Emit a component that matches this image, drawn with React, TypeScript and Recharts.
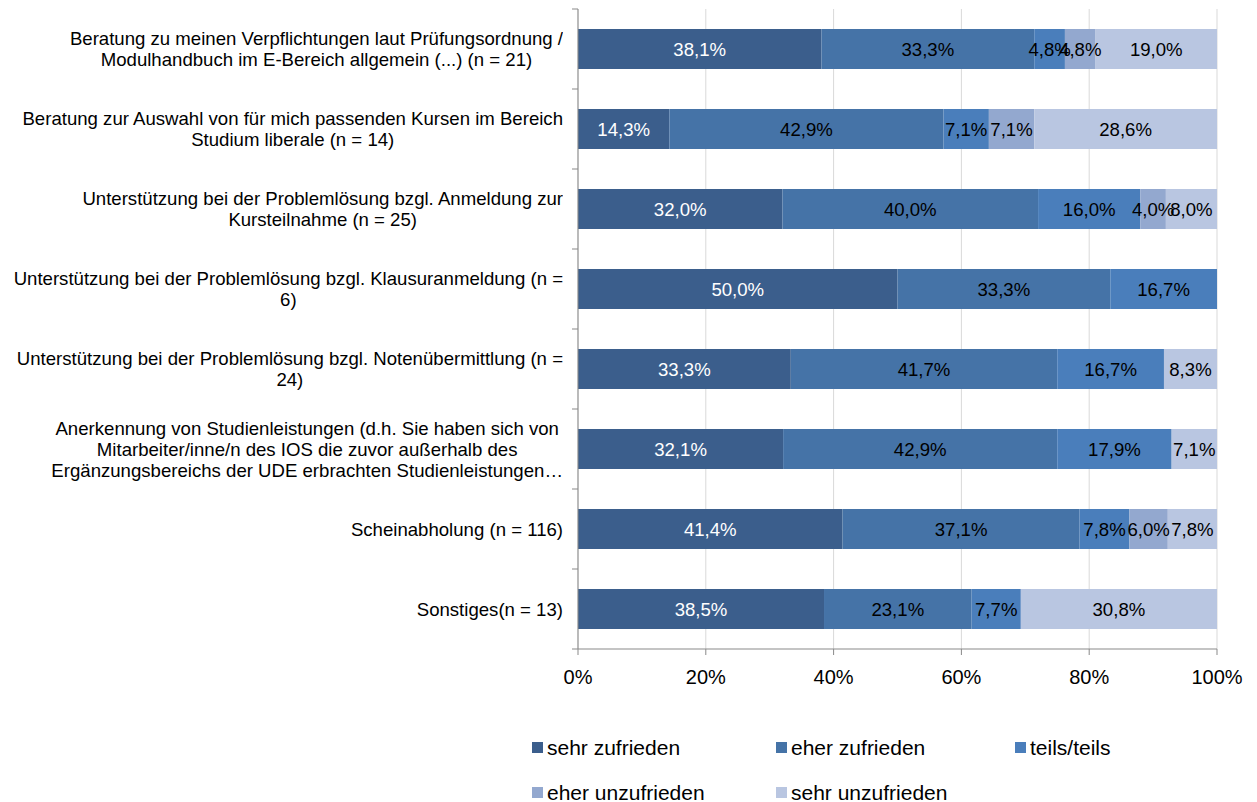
import { BarChart, Bar, XAxis, YAxis, CartesianGrid, Legend, LabelList } from 'recharts';

const categories = [
    'Beratung zu meinen Verpflichtungen laut Prüfungsordnung /\nModulhandbuch im E-Bereich allgemein (...) (n = 21)',
    'Beratung zur Auswahl von für mich passenden Kursen im Bereich\nStudium liberale (n = 14)',
    'Unterstützung bei der Problemlösung bzgl. Anmeldung zur\nKursteilnahme (n = 25)',
    'Unterstützung bei der Problemlösung bzgl. Klausuranmeldung (n =\n6)',
    'Unterstützung bei der Problemlösung bzgl. Notenübermittlung (n =\n24)',
    'Anerkennung von Studienleistungen (d.h. Sie haben sich von\nMitarbeiter/inne/n des IOS die zuvor außerhalb des\nErgänzungsbereichs der UDE erbrachten Studienleistungen…',
    'Scheinabholung (n = 116)',
    'Sonstiges(n = 13)',
];

const sehrZufrieden = [38.1, 14.3, 32.0, 50.0, 33.3, 32.1, 41.4, 38.5];
const eherZufrieden = [33.3, 42.9, 40.0, 33.3, 41.7, 42.9, 37.1, 23.1];
const teilsTeils = [4.8, 7.1, 16.0, 16.7, 16.7, 17.9, 7.8, 7.7];
const eherUnzufrieden = [4.8, 7.1, 4.0, 0, 0, 0, 6.0, 0];
const sehrUnzufrieden = [19.0, 28.6, 8.0, 0, 8.3, 7.1, 7.8, 30.8];

const xTicks = [0, 20, 40, 60, 80, 100];

const series = [
    { key: 'sz', name: 'sehr zufrieden', values: sehrZufrieden, color: '#3B5E8C', label: '#ffffff' },
    { key: 'ez', name: 'eher zufrieden', values: eherZufrieden, color: '#4573A7', label: '#000000' },
    { key: 'tt', name: 'teils/teils', values: teilsTeils, color: '#4A7EBB', label: '#000000' },
    { key: 'eu', name: 'eher unzufrieden', values: eherUnzufrieden, color: '#93A8CF', label: '#000000' },
    { key: 'su', name: 'sehr unzufrieden', values: sehrUnzufrieden, color: '#B9C6E1', label: '#000000' },
];

const data = categories.map((name, i) => {
    const row: Record<string, any> = { name };
    series.forEach((s) => { row[s.key] = s.values[i]; });
    return row;
});

const FONT = '"Liberation Sans", Arial, sans-serif';

const CategoryTick = (props: any) => {
    const { y, payload, index } = props;
    const lines = String(payload.value).split('\n');
    return (
        <g>
            <line x1={572} x2={578} y1={y - 40} y2={y - 40} stroke="#898989" />
            {index === categories.length - 1 && (
                <line x1={572} x2={578} y1={y + 40} y2={y + 40} stroke="#898989" />
            )}
            <foreignObject x={0} y={y - 40} width={563} height={80}>
                <div style={{ width: 563, height: 80, display: 'flex', flexDirection: 'column', justifyContent: 'center', alignItems: 'flex-end' }}>
                    <div style={{ textAlign: 'center', fontFamily: FONT, fontSize: 18.6, lineHeight: '21px', color: '#000', whiteSpace: 'nowrap' }}>
                        {lines.map((l, k) => <div key={k}>{l}</div>)}
                    </div>
                </div>
            </foreignObject>
        </g>
    );
};

const makeLabel = (color: string) => (props: any) => {
    const { x, y, width, height, value } = props;
    if (!value) return null;
    return (
        <text x={x + width / 2} y={y + height / 2} dy="0.36em" textAnchor="middle"
            fontFamily={FONT} fontSize={18.6} fill={color}>
            {value.toFixed(1).replace('.', ',')}%
        </text>
    );
};

const LegendContent = () => (
    <div style={{ paddingLeft: 532, display: 'grid', gridTemplateColumns: '244px 239px 220px', rowGap: 22, fontFamily: FONT, fontSize: 21, color: '#000' }}>
        {series.map((s) => (
            <div key={s.key} style={{ display: 'flex', alignItems: 'center', height: 23 }}>
                <span style={{ width: 11, height: 11, background: s.color, marginRight: 4, display: 'inline-block' }} />
                <span>{s.name}</span>
            </div>
        ))}
    </div>
);

const App = () => {
    return (
        <div style={{ position: 'absolute', left: 0, top: 0 }}>
            <BarChart width={1257} height={802} data={data} layout="vertical"
                margin={{ top: 9, right: 40, bottom: 0, left: 0 }} barSize={40}>
                <CartesianGrid horizontal={false} stroke="#d9d9d9" />
                <XAxis type="number" domain={[0, 100]} ticks={xTicks} allowDataOverflow
                    tickFormatter={(v) => `${v}%`} height={40} tickSize={6} tickMargin={15}
                    stroke="#898989" tick={{ fill: '#000', fontSize: 20, fontFamily: FONT }} />
                <YAxis type="category" dataKey="name" width={578} tickLine={false}
                    stroke="#898989" tick={<CategoryTick />} interval={0} />
                <Legend verticalAlign="bottom" height={113} content={<LegendContent />}
                    wrapperStyle={{ left: 0, top: 736, width: 1257 }} />
                {series.map((s) => (
                    <Bar key={s.key} dataKey={s.key} name={s.name} stackId="a" fill={s.color} isAnimationActive={false}>
                        <LabelList dataKey={s.key} content={makeLabel(s.label)} />
                    </Bar>
                ))}
            </BarChart>
        </div>
    );
};

export default App;
